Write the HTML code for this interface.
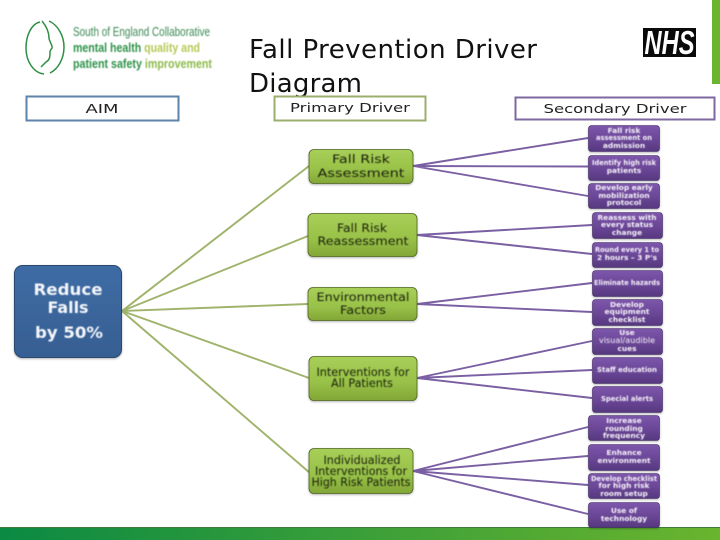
<!DOCTYPE html>
<html><head><meta charset="utf-8"><style>
html,body{margin:0;padding:0;background:#fff}
svg{display:block}
text{font-family:"DejaVu Sans","Liberation Sans",sans-serif;text-anchor:middle}
.p text{fill:#f6f2fa;font-size:7.4px;font-weight:bold}
.g text{fill:#1c220c;font-size:11.8px}
</style></head><body>
<svg width="720" height="540" viewBox="0 0 720 540" xmlns="http://www.w3.org/2000/svg">
<defs>
<linearGradient id="gb" x1="0" x2="0" y1="0" y2="1"><stop offset="0" stop-color="#a8cf58"/><stop offset=".6" stop-color="#98c148"/><stop offset="1" stop-color="#83a636"/></linearGradient>
<linearGradient id="pb" x1="0" x2="0" y1="0" y2="1"><stop offset="0" stop-color="#7d56ab"/><stop offset=".55" stop-color="#6a4696"/><stop offset="1" stop-color="#56387f"/></linearGradient>
<linearGradient id="bb" x1="0" x2="0" y1="0" y2="1"><stop offset="0" stop-color="#3f6ca5"/><stop offset="1" stop-color="#365f92"/></linearGradient>
<linearGradient id="bar" x1="0" x2="1" y1="0" y2="0"><stop offset="0" stop-color="#0b8a43"/><stop offset="1" stop-color="#6ab42e"/></linearGradient>
<filter id="s" x="-10%" y="-10%" width="120%" height="125%"><feDropShadow dx="0" dy="1" stdDeviation="1" flood-color="#000" flood-opacity=".3"/></filter>
<filter id="b" x="-5%" y="-20%" width="110%" height="140%"><feGaussianBlur stdDeviation=".4"/></filter>
</defs>

<rect x="712" y="0" width="8" height="84" fill="#6ab42e"/>
<rect x="0" y="527" width="720" height="13" fill="url(#bar)"/>
<rect x="0" y="527" width="720" height="1" fill="#3f7a3a"/>

<!-- logo -->
<g fill="none" stroke="#2f8f45" stroke-width="1.5">
<path d="M40 22C31 24 26 36 26 48C26 62 34 73 44 74"/>
<path d="M49 21C58 25 64 36 64 47C64 59 58 69 50 73"/>
<path d="M42 21C47 27 49 32 49 38C49 41 53 46 52 48C51 50 50 50 50 52C50 56 50 60 46 62C44 64 42 66 41 67"/>
</g>
<g filter="url(#b)">
<text x="73" y="36" textLength="137" lengthAdjust="spacingAndGlyphs" style="text-anchor:start;font-family:'Liberation Sans',sans-serif;font-size:12.5px;fill:#3d8a55">South of England Collaborative</text>
<text x="73" y="52" textLength="127" lengthAdjust="spacingAndGlyphs" style="text-anchor:start;font-family:'Liberation Sans',sans-serif;font-size:12.5px;font-weight:bold;fill:#2e9248">mental health <tspan fill="#b5c957">quality and</tspan></text>
<text x="73" y="68" textLength="139" lengthAdjust="spacingAndGlyphs" style="text-anchor:start;font-family:'Liberation Sans',sans-serif;font-size:12.5px;font-weight:bold;fill:#2e9248">patient safety <tspan fill="#8dbb4c">improvement</tspan></text>
</g>

<!-- title -->
<text x="249" y="58" textLength="288" style="text-anchor:start;font-size:26px;fill:#111">Fall Prevention Driver</text>
<text x="249" y="92" textLength="113" style="text-anchor:start;font-size:26px;fill:#111">Diagram</text>

<!-- NHS -->
<rect x="643" y="28" width="53" height="29" fill="#0a0a0a"/>
<text x="669.5" y="54" textLength="50" lengthAdjust="spacingAndGlyphs" style="font-family:'Liberation Sans',sans-serif;font-size:33px;font-weight:bold;font-style:italic;fill:#fff">NHS</text>

<!-- headers -->
<rect x="26.5" y="96.5" width="152" height="24" fill="#fff" stroke="#5e83aa" stroke-width="2"/>
<text x="102" y="113" textLength="33" lengthAdjust="spacingAndGlyphs" style="font-size:12px;fill:#222">AIM</text>
<rect x="274.5" y="96.5" width="151" height="24" fill="#fff" stroke="#9bae6c" stroke-width="2"/>
<text x="350" y="112" textLength="120" lengthAdjust="spacingAndGlyphs" style="font-size:12px;fill:#222">Primary Driver</text>
<rect x="515.5" y="97.5" width="199" height="22" fill="#fff" stroke="#7d68a0" stroke-width="2"/>
<text x="615" y="113" textLength="143" lengthAdjust="spacingAndGlyphs" style="font-size:12px;fill:#222">Secondary Driver</text>

<!-- green connectors -->
<g stroke="#9fb36b" stroke-width="1.9" fill="none">
<path d="M122 311L309 166M122 311L308 236M122 311L308 304M122 311L309 378M122 311L310 473"/>
</g>
<!-- purple connectors -->
<g stroke="#7a5fa3" stroke-width="1.9" fill="none">
<path d="M413 166L588 138M413 166L588 166.5M413 166L588 196"/>
<path d="M417 235L592 225M417 235L592 254"/>
<path d="M417 304L592 283M417 304L592 312"/>
<path d="M417 378L592 341M417 378L592 370M417 378L592 398"/>
<path d="M413 471L588 427M413 471L588 456M413 471L588 485M413 471L588 514"/>
</g>

<!-- aim box -->
<rect x="14.500" y="265.500" width="107" height="92" rx="8" fill="url(#bb)" stroke="#2a4a70" filter="url(#s)"/>
<g filter="url(#b)">
<text x="68" y="295" textLength="69" lengthAdjust="spacingAndGlyphs" style="font-weight:bold;font-size:16px;fill:#f4f6fa">Reduce</text>
<text x="68" y="313" textLength="41" lengthAdjust="spacingAndGlyphs" style="font-weight:bold;font-size:16px;fill:#f4f6fa">Falls</text>
<text x="69" y="338" textLength="68" lengthAdjust="spacingAndGlyphs" style="font-weight:bold;font-size:16px;fill:#f4f6fa">by 50%</text>
</g>

<!-- primary boxes -->
<g stroke="#4f6420" stroke-width=".8" fill="url(#gb)" filter="url(#s)">
<rect x="309" y="149.500" width="104" height="34" rx="5"/>
<rect x="308" y="213.500" width="109" height="43" rx="5"/>
<rect x="308" y="287.500" width="109" height="33" rx="5"/>
<rect x="309" y="356.500" width="108" height="44" rx="5"/>
<rect x="309" y="448.500" width="104" height="45" rx="5"/>
</g>
<g class="g" filter="url(#b)">
<text x="361" y="163" textLength="58" lengthAdjust="spacingAndGlyphs">Fall Risk</text>
<text x="361" y="177" textLength="87" lengthAdjust="spacingAndGlyphs">Assessment</text>
<text x="362" y="232" textLength="50" lengthAdjust="spacingAndGlyphs">Fall Risk</text>
<text x="363" y="245" textLength="91" lengthAdjust="spacingAndGlyphs">Reassessment</text>
<text x="363" y="301" textLength="93" lengthAdjust="spacingAndGlyphs">Environmental</text>
<text x="363" y="314" textLength="46" lengthAdjust="spacingAndGlyphs">Factors</text>
<text x="363" y="376" textLength="93" lengthAdjust="spacingAndGlyphs">Interventions for</text>
<text x="362" y="387" textLength="62" lengthAdjust="spacingAndGlyphs">All Patients</text>
<text x="362" y="464" textLength="77" lengthAdjust="spacingAndGlyphs">Individualized</text>
<text x="361" y="475" textLength="92" lengthAdjust="spacingAndGlyphs">Interventions for</text>
<text x="361" y="486" textLength="99" lengthAdjust="spacingAndGlyphs">High Risk Patients</text>
</g>

<!-- secondary boxes -->
<g stroke="#3f2a60" stroke-width=".6" fill="url(#pb)" filter="url(#s)">
<rect x="588.500" y="125.500" width="71" height="26" rx="3"/>
<rect x="588.500" y="155.500" width="71" height="25" rx="3"/>
<rect x="588.500" y="183.500" width="71" height="25" rx="3"/>
<rect x="592.500" y="212.500" width="70" height="26" rx="3"/>
<rect x="592.500" y="242.500" width="70" height="25" rx="3"/>
<rect x="592.500" y="270.500" width="70" height="26" rx="3"/>
<rect x="592.500" y="299.500" width="70" height="26" rx="3"/>
<rect x="592.500" y="328.500" width="70" height="26" rx="3"/>
<rect x="592.500" y="357.500" width="70" height="26" rx="3"/>
<rect x="592.500" y="386.500" width="70" height="26" rx="3"/>
<rect x="588.500" y="415.500" width="71" height="25" rx="3"/>
<rect x="588.500" y="444.500" width="71" height="26" rx="3"/>
<rect x="588.500" y="473.500" width="71" height="25" rx="3"/>
<rect x="588.500" y="502.500" width="71" height="25" rx="3"/>
</g>
<g class="p" filter="url(#b)">
<text x="624" y="133">Fall risk</text>
<text x="624" y="140" textLength="56" lengthAdjust="spacingAndGlyphs">assessment on</text>
<text x="624" y="148">admission</text>
<text x="624" y="165" textLength="64" lengthAdjust="spacingAndGlyphs">Identify high risk</text>
<text x="624" y="173">patients</text>
<text x="624" y="190">Develop early</text>
<text x="624" y="198">mobilization</text>
<text x="624" y="205">protocol</text>
<text x="627" y="220">Reassess with</text>
<text x="627" y="227">every status</text>
<text x="627" y="235">change</text>
<text x="627" y="252" textLength="64" lengthAdjust="spacingAndGlyphs">Round every 1 to</text>
<text x="627" y="260">2 hours – 3 P's</text>
<text x="627" y="285" textLength="66" lengthAdjust="spacingAndGlyphs">Eliminate hazards</text>
<text x="627" y="307">Develop</text>
<text x="627" y="314">equipment</text>
<text x="627" y="322">checklist</text>
<text x="627" y="335">Use</text>
<text x="627" y="343" textLength="56" lengthAdjust="spacing" style="font-weight:normal;font-size:8px">visual/audible</text>
<text x="627" y="351">cues</text>
<text x="627" y="372" textLength="60" lengthAdjust="spacingAndGlyphs">Staff education</text>
<text x="627" y="401" textLength="52" lengthAdjust="spacingAndGlyphs">Special alerts</text>
<text x="624" y="423">Increase</text>
<text x="624" y="431">rounding</text>
<text x="624" y="438">frequency</text>
<text x="624" y="455">Enhance</text>
<text x="624" y="463">environment</text>
<text x="624" y="481" textLength="66" lengthAdjust="spacingAndGlyphs">Develop checklist</text>
<text x="624" y="488">for high risk</text>
<text x="624" y="496">room setup</text>
<text x="624" y="513">Use of</text>
<text x="624" y="521">technology</text>
</g>
</svg>
</body></html>
